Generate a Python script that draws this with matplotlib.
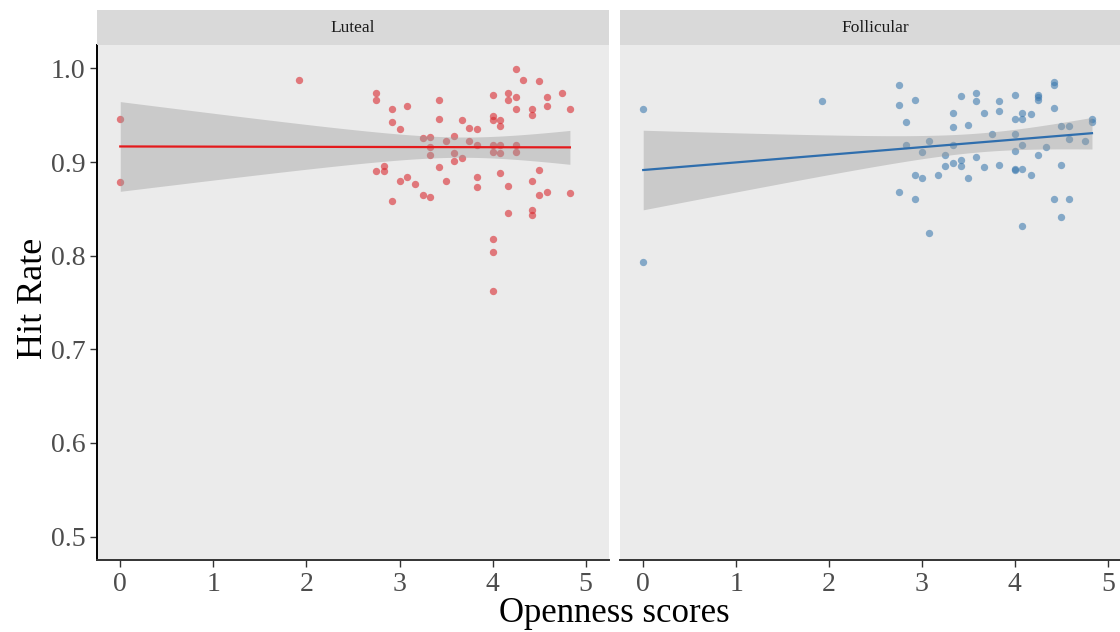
import numpy as np
import matplotlib
matplotlib.use("Agg")
import matplotlib.pyplot as plt

plt.rcParams['font.family'] = ['Liberation Serif', 'DejaVu Serif']

# donnees : Luteal
luteal_x = [0, 0, 1.92,
            2.75, 2.75, 2.75, 2.83, 2.83, 2.92, 2.92, 2.92, 3.0, 3.0,
            3.08, 3.08, 3.17, 3.25, 3.25, 3.33, 3.33, 3.33, 3.33,
            3.42, 3.42, 3.42, 3.5, 3.5, 3.58, 3.58, 3.58, 3.67, 3.67,
            3.75, 3.75, 3.83, 3.83, 3.83, 3.83,
            4.0, 4.0, 4.0, 4.0, 4.0, 4.0, 4.0, 4.0,
            4.08, 4.08, 4.08, 4.08, 4.08, 4.17, 4.17, 4.17, 4.17,
            4.25, 4.25, 4.25, 4.25, 4.25, 4.33,
            4.42, 4.42, 4.42, 4.42, 4.42, 4.5, 4.5, 4.5,
            4.58, 4.58, 4.58, 4.75, 4.83, 4.83]
luteal_y = [0.946, 0.879, 0.988,
            0.974, 0.966, 0.890, 0.890, 0.896, 0.957, 0.943, 0.858, 0.935, 0.880,
            0.960, 0.884, 0.877, 0.926, 0.865, 0.927, 0.916, 0.908, 0.863,
            0.966, 0.946, 0.895, 0.923, 0.880, 0.928, 0.910, 0.901, 0.945, 0.904,
            0.936, 0.923, 0.935, 0.918, 0.884, 0.873,
            0.972, 0.949, 0.945, 0.918, 0.911, 0.818, 0.804, 0.762,
            0.945, 0.938, 0.918, 0.910, 0.888, 0.974, 0.966, 0.874, 0.846,
            0.999, 0.969, 0.957, 0.918, 0.911, 0.988,
            0.957, 0.950, 0.880, 0.849, 0.843, 0.987, 0.892, 0.865,
            0.969, 0.960, 0.868, 0.974, 0.957, 0.867]

# donnees : Follicular
follic_x = [0, 0, 1.92,
            2.75, 2.75, 2.75, 2.83, 2.83, 2.92, 2.92, 2.92, 3.0, 3.0,
            3.08, 3.08, 3.17, 3.25, 3.25, 3.33, 3.33, 3.33, 3.33,
            3.42, 3.42, 3.42, 3.5, 3.5, 3.58, 3.58, 3.58, 3.67, 3.67,
            3.75, 3.83, 3.83, 3.83,
            4.0, 4.0, 4.0, 4.0, 4.0, 4.0,
            4.08, 4.08, 4.08, 4.08, 4.08, 4.17, 4.17,
            4.25, 4.25, 4.25, 4.25, 4.33,
            4.42, 4.42, 4.42, 4.42, 4.5, 4.5, 4.5,
            4.58, 4.58, 4.58, 4.75, 4.83, 4.83]
follic_y = [0.957, 0.793, 0.965,
            0.982, 0.961, 0.868, 0.943, 0.918, 0.966, 0.886, 0.860, 0.911, 0.883,
            0.923, 0.824, 0.886, 0.907, 0.896, 0.952, 0.937, 0.918, 0.899,
            0.971, 0.902, 0.896, 0.940, 0.883, 0.974, 0.965, 0.905, 0.952, 0.895,
            0.930, 0.965, 0.954, 0.897,
            0.972, 0.946, 0.930, 0.912, 0.893, 0.891,
            0.952, 0.946, 0.918, 0.893, 0.832, 0.951, 0.886,
            0.972, 0.969, 0.966, 0.908, 0.916,
            0.986, 0.982, 0.958, 0.860, 0.938, 0.897, 0.841,
            0.938, 0.925, 0.860, 0.923, 0.946, 0.943]

panels = ['Luteal', 'Follicular']
point_colors = ['#D9242A', '#3A78AE']
line_colors = ['#E41A1C', '#2F6EAD']


def droite_ic(x, y):
    # regression lineaire + intervalle de confiance 95% (comme geom_smooth)
    x = np.asarray(x)
    y = np.asarray(y)
    n = len(x)
    b, a = np.polyfit(x, y, 1)
    res = y - (a + b * x)
    s = np.sqrt(np.sum(res ** 2) / (n - 2))
    xs = np.linspace(x.min(), x.max(), 100)
    fit = a + b * xs
    se = s * np.sqrt(1 / n + (xs - x.mean()) ** 2 / np.sum((x - x.mean()) ** 2))
    return xs, fit, fit - 1.99 * se, fit + 1.99 * se


fig = plt.figure(figsize=(11.2, 6.32), dpi=100)
W, H = 1120, 632
positions = [(97, 609), (620, 1131)]
top, bottom = 45, 560

data = [(luteal_x, luteal_y), (follic_x, follic_y)]
for i, (x0, x1) in enumerate(positions):
    ax = fig.add_axes([x0 / W, (H - bottom) / H, (x1 - x0) / W, (bottom - top) / H])
    ax.set_facecolor('#EBEBEB')
    x, y = data[i]
    ax.scatter(x, y, s=28, color=point_colors[i], alpha=0.58, linewidths=0, zorder=2)
    xs, fit, lo, hi = droite_ic(x, y)
    ax.fill_between(xs, lo, hi, color='#999999', alpha=0.4, linewidth=0, zorder=3)
    ax.plot(xs, fit, color=line_colors[i], lw=1.6, zorder=4)
    ax.set_xlim(-0.25, 5.25)
    ax.set_ylim(0.475, 1.025)
    ax.set_xticks([0, 1, 2, 3, 4, 5])
    ax.set_yticks([0.5, 0.6, 0.7, 0.8, 0.9, 1.0])
    ax.set_yticklabels(['0.5', '0.6', '0.7', '0.8', '0.9', '1.0'])
    ax.tick_params(labelsize=20, colors='#333333', labelcolor='#4D4D4D', length=5, width=1)
    for sp in ['top', 'right']:
        ax.spines[sp].set_visible(False)
    ax.spines['bottom'].set_color('#333333')
    ax.spines['bottom'].set_linewidth(1.4)
    ax.spines['left'].set_color('black')
    ax.spines['left'].set_linewidth(1.4)
    if i == 1:
        ax.spines['left'].set_visible(False)
        ax.tick_params(axis='y', left=False, labelleft=False)

    # bandeau du facet
    sx = fig.add_axes([x0 / W, (H - top) / H, (x1 - x0) / W, 35 / H])
    sx.set_facecolor('#D9D9D9')
    sx.set_xticks([])
    sx.set_yticks([])
    for sp in sx.spines.values():
        sp.set_visible(False)
    sx.text(0.5, 0.5, panels[i], ha='center', va='center', fontsize=12.5,
            color='#1A1A1A', transform=sx.transAxes)

fig.text(33 / W, 1 - 298 / H, 'Hit Rate', rotation=90, ha='center', va='center', fontsize=26)
fig.text(614 / W, 1 - 614 / H, 'Openness scores', ha='center', va='center', fontsize=25)

fig.savefig('out.png', dpi=100)
